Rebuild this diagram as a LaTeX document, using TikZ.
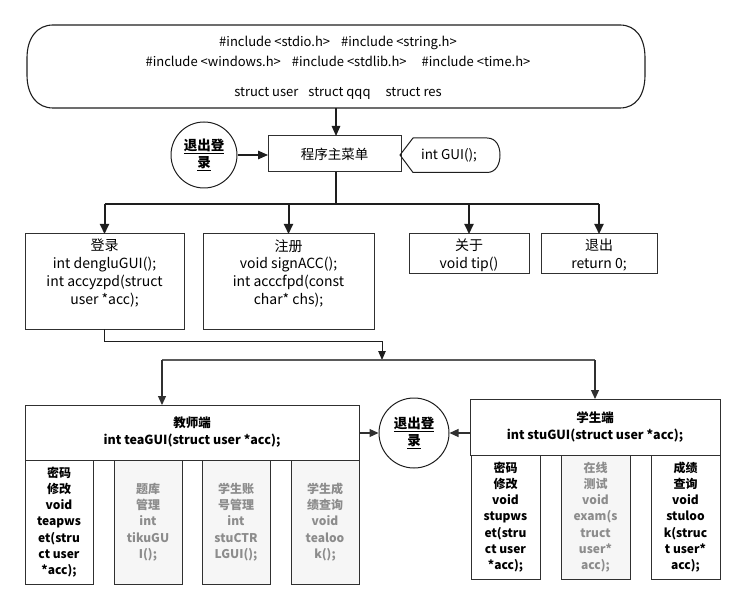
\documentclass[tikz,border=0pt]{standalone}
\usepackage{fontspec}
\setmainfont{Noto Sans CJK SC}
\usetikzlibrary{arrows.meta}
\definecolor{ink}{HTML}{1E1E1E}
\definecolor{edge}{HTML}{303030}
\definecolor{splitc}{HTML}{5A5A5A}
\definecolor{pale}{HTML}{F6F6F6}
\definecolor{dimtext}{HTML}{8C8C8C}
\begin{document}
\begin{tikzpicture}[x=1pt,y=-1pt,
  box/.style={draw=edge, line width=1pt, inner sep=0pt, outer sep=0pt, fill=white},
  dimbox/.style={box, fill=pale, text=dimtext},
  toptxt/.style={font=\fontsize{13}{15}\selectfont, inner sep=0pt},
  midtxt/.style={font=\fontsize{14}{17.8}\selectfont, align=center, inner sep=0pt, anchor=north},
  headtxt/.style={font=\bfseries\fontsize{12.5}{17}\selectfont, align=center},
  subtxt/.style={font=\bfseries\fontsize{12}{16.2}\selectfont, align=center},
  quit/.style={circle, draw=ink, line width=1pt, inner sep=0pt, align=center,
    font=\bfseries\fontsize{13.5}{17}\selectfont},
  bigarr/.style={draw=ink, line width=2pt, -{Triangle[length=10pt,width=9pt]}},
  arr/.style={draw=ink, line width=1.2pt, -{Triangle[length=10pt,width=8.5pt]}},
  smallarr/.style={line width=1.2pt, -{Triangle[length=9pt,width=8pt]}},
]
\useasboundingbox (0,0) rectangle (743,609);

% header block with the includes and structs
\draw[draw=ink, line width=1.1pt]
  (53,25) -- (620,25) .. controls (636,25) and (645,38) .. (645,58) -- (645,75)
  .. controls (645,95) and (636,108) .. (620,108) -- (53,108)
  .. controls (37,108) and (27,95) .. (27,75) -- (27,58)
  .. controls (27,38) and (37,25) .. (53,25) -- cycle;
\node[toptxt] (inc1) at (338,43) {\#include <stdio.h>\hspace{11pt}\#include <string.h>};
\node[toptxt] (inc2) at (338,61) {\#include <windows.h>\hspace{11pt}\#include <stdlib.h>\hspace{15pt}\#include <time.h>};
\node[toptxt] (structs) at (338,93) {struct user\hspace{10pt}struct qqq\hspace{15pt}struct res};
\coordinate (hdrbot) at (336,108);

% main menu row
\node[box, minimum width=133pt, minimum height=36pt, font=\fontsize{13.5}{16}\selectfont] (main) at (334.5,154) {程序主菜单};
\node[quit, minimum size=66pt] (quitA) at (204,155) {\underline{退出登}\\\underline{录}};
\draw[draw=ink, line width=1pt]
  (400,155) -- (413,138) -- (487,138) .. controls (496,138) and (500,146) .. (500,155)
  .. controls (500,164) and (496,172.5) .. (487,172.5) -- (413,172.5) -- cycle;
\node[font=\fontsize{13.5}{16}\selectfont] (gui) at (449,155) {int GUI();};

\draw[arr] (hdrbot) -- (hdrbot |- main.north);
\draw[arr] (quitA.east) -- (quitA.east -| main.west);

% menu choices
\node[box, minimum width=159pt, minimum height=95pt] (login) at (104.5,281.5) {};
\node[box, minimum width=171pt, minimum height=95pt] (signup) at (288.5,281.5) {};
\node[box, minimum width=120pt, minimum height=39pt] (about) at (469,253.5) {};
\node[box, minimum width=116pt, minimum height=39pt] (leave) at (599,253.5) {};
\node[midtxt] (login-t) at (104.5,239) {登录\\int dengluGUI();\\int accyzpd(struct\\user *acc);};
\node[midtxt] (signup-t) at (288.5,239) {注册\\void signACC();\\int acccfpd(const\\char* chs);};
\node[midtxt] (about-t) at (469,239) {关于\\void tip()};
\node[midtxt] (leave-t) at (599,239) {退出\\return 0;};

\coordinate (busc) at (336,204);
\draw[draw=ink, line width=2pt] (main.south -| busc) -- (busc);
\draw[draw=ink, line width=2pt] (login.north |- busc) -- (leave.north |- busc);
\foreach \n in {login,signup,about,leave}
  \draw[bigarr] (\n.north |- busc) -- (\n.north);

% teacher side
\node[box, minimum width=334pt, minimum height=55pt, headtxt] (tea) at (192,432.5)
  {教师端\\int teaGUI(struct user *acc);};
\node[box, minimum width=68pt, minimum height=124pt, subtxt] (tpw) at (59,522)
  {密码\\修改\\void\\teapws\\et(stru\\ct user\\*acc);};
\node[dimbox, minimum width=68pt, minimum height=124pt, subtxt] (tiku) at (148,522)
  {题库\\管理\\int\\tikuGU\\I();};
\node[dimbox, minimum width=68pt, minimum height=124pt, subtxt] (tctrl) at (236,522)
  {学生账\\号管理\\int\\stuCTR\\LGUI();};
\node[dimbox, minimum width=68pt, minimum height=124pt, subtxt] (tlook) at (325,522)
  {学生成\\绩查询\\void\\tealoo\\k();};

% student side
\node[box, minimum width=250pt, minimum height=56pt, headtxt] (stu) at (595,427)
  {学生端\\int stuGUI(struct user *acc);};
\node[box, minimum width=69pt, minimum height=124pt, subtxt] (spw) at (505.5,517)
  {密码\\修改\\void\\stupws\\et(stru\\ct user\\*acc);};
\node[dimbox, minimum width=69pt, minimum height=124pt, subtxt] (exam) at (595.5,517)
  {在线\\测试\\void\\exam(s\\truct\\user*\\acc);};
\node[box, minimum width=69pt, minimum height=124pt, subtxt] (slook) at (685.5,517)
  {成绩\\查询\\void\\stuloo\\k(struc\\t user*\\acc);};

\node[quit, minimum size=70pt] (quitB) at (414,433) {\underline{退出登}\\\underline{录}};

% login leads to the two clients
\coordinate (turn) at (382,341);
\coordinate (join) at (382,360);
\draw[draw=ink, line width=1pt, -{Triangle[length=9pt,width=7.5pt]}] (login.south) |- (turn) -- (join);
\draw[draw=splitc, line width=1.3pt] ([xshift=-30pt]tea.north |- join) -- (stu.north |- join);
\draw[smallarr, draw=edge] ([xshift=-30pt]tea.north |- join) -- ([xshift=-30pt]tea.north);
\draw[smallarr, draw=edge] (stu.north |- join) -- (stu.north);

\draw[smallarr, draw=edge] (tea.east |- quitB.west) -- (quitB.west);
\draw[smallarr, draw=edge] (stu.west |- quitB.east) -- (quitB.east);
\end{tikzpicture}
\end{document}
